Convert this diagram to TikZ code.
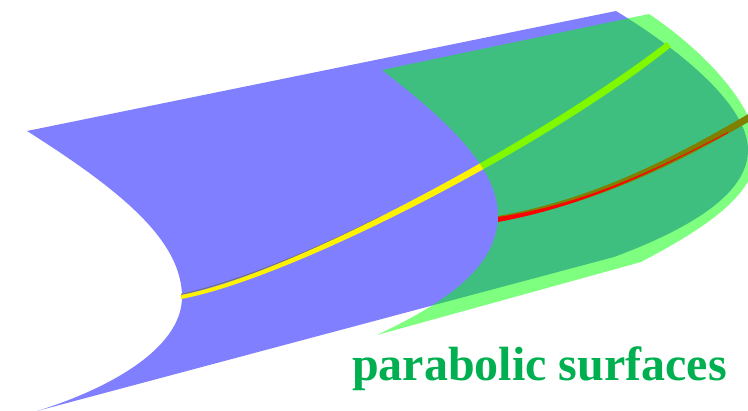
\documentclass[tikz,border=0pt]{standalone}
\usepackage{fontspec}
\setmainfont{Liberation Serif}
\definecolor{labelgreen}{RGB}{0,176,80}
\definecolor{fringe}{RGB}{110,110,130}
\definecolor{olive}{RGB}{128,128,0}

\begin{document}
\begin{tikzpicture}[
  x=1pt,
  y=-1pt,
  bluesheet/.style={fill={rgb,1:red,0;green,0;blue,1}, fill opacity=0.5},
  greensheet/.style={fill={rgb,1:red,0;green,1;blue,0}, fill opacity=0.5},
  label/.style={
    anchor=base west,
    inner sep=0pt,
    text=labelgreen,
    font=\fontsize{48}{48}\selectfont\bfseries
  }
]
\useasboundingbox (0,0) rectangle (748,411);
\clip (0,0) rectangle (748,411);

% Blue surface
\fill[bluesheet] (27,131) -- (616,11)
  .. controls (680,50) and (748,105) .. (748,150)
  .. controls (748,190) and (700,225) .. (614,257)
  -- (37,411)
  .. controls (105,390) and (182,350) .. (182,297)
  .. controls (182,240) and (120,190) .. (27,131)
  -- cycle;

% Yellow curve, lies under the green surface
\draw[fringe, line width=1pt] (181,294.5) .. controls (240,281) and (310,252) .. (380,217);
\fill[yellow] (181,295) .. controls (290,275) and (540,140) .. (667,42)
  -- (671,47) .. controls (545,148) and (290,279) .. (181,299) -- cycle;

% Green surface
\fill[greensheet] (382,70) -- (649,14)
  .. controls (700,48) and (757,105) .. (757,150)
  .. controls (757,195) and (705,228) .. (641,262)
  -- (377,335)
  .. controls (440,305) and (498,270) .. (498,215)
  .. controls (498,165) and (440,115) .. (382,70)
  -- cycle;

% Red curve, fades out to the right
\fill[olive] (498,216) .. controls (590,200) and (670,160) .. (750,113)
  -- (750,121) .. controls (675,165) and (595,204) .. (498,221) -- cycle;
\fill[red] (498,217) .. controls (590,204) and (670,162) .. (728,132)
  -- (728,133) .. controls (660,168) and (590,205) .. (498,222) -- cycle;

\node[label] (title) at (352,381) {parabolic surfaces};
\end{tikzpicture}
\end{document}
